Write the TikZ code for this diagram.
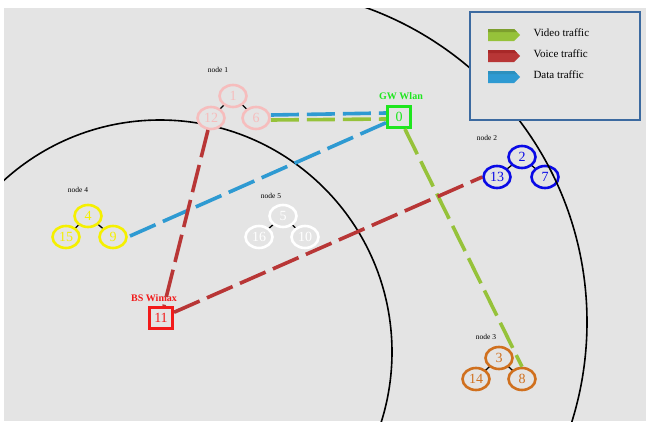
\documentclass[tikz,border=0pt]{standalone}
\usepackage{fontspec}
\setmainfont{Liberation Serif}
\usetikzlibrary{shapes.geometric,backgrounds}
\definecolor{bggray}{HTML}{E4E4E4}
\definecolor{pinkn}{HTML}{F6BDBD}
\definecolor{bluen}{HTML}{0A0AE6}
\definecolor{yellown}{HTML}{F5F000}
\definecolor{orangen}{HTML}{D0701E}
\definecolor{gwgreen}{HTML}{1EE61E}
\definecolor{bsred}{HTML}{F21A1A}
\definecolor{video}{HTML}{96C23A}
\definecolor{voice}{HTML}{B83636}
\definecolor{data}{HTML}{2E9AD2}
\definecolor{legendframe}{HTML}{3C6AA0}
\begin{document}
\begin{tikzpicture}[x=1pt,y=-1pt,
  host/.style={ellipse, draw=#1, text=#1, fill=bggray, line width=2.6pt,
    minimum width=27pt, minimum height=22pt, inner sep=0pt, font=\fontsize{14}{14}\selectfont},
  gateway/.style={rectangle, draw=#1, text=#1, fill=bggray, line width=3pt,
    minimum width=23pt, minimum height=21pt, inner sep=0pt, font=\fontsize{14}{14}\selectfont},
  grouplabel/.style={font=\fontsize{7.5}{8}\selectfont, text=black},
  stationlabel/.style={font=\fontsize{10}{10}\selectfont\bfseries, text=#1},
  link/.style={black, line width=1.3pt},
  coverage/.style={line width=1.6pt},
  traffic/.style={draw=#1, line width=3.6pt, dash pattern=on 28pt off 8pt},
  legendtext/.style={font=\fontsize{11}{11}\selectfont, anchor=west}]
\useasboundingbox (0,0) rectangle (646,421);

% groups of hosts
\node[host=pinkn] (n1) at (233,96) {1};
\node[host=pinkn] (n12) at (211,118) {12};
\node[host=pinkn] (n6) at (256,118) {6};
\node[grouplabel] (g1) at (218,70) {node 1};

\node[host=bluen] (n2) at (522,157) {2};
\node[host=bluen] (n13) at (497,177) {13};
\node[host=bluen] (n7) at (545,177) {7};
\node[grouplabel] (g2) at (487,138) {node 2};

\node[host=yellown] (n4) at (88,216) {4};
\node[host=yellown] (n15) at (66,237) {15};
\node[host=yellown] (n9) at (113,237) {9};
\node[grouplabel] (g4) at (78,190) {node 4};

\node[host=white] (n5) at (283,216) {5};
\node[host=white] (n16) at (259,237) {16};
\node[host=white] (n10) at (305,237) {10};
\node[grouplabel] (g5) at (271,196) {node 5};

\node[host=orangen] (n3) at (499,358) {3};
\node[host=orangen] (n14) at (476,379) {14};
\node[host=orangen] (n8) at (522,379) {8};
\node[grouplabel] (g3) at (486,337) {node 3};

% gateways
\node[gateway=gwgreen] (n0) at (399,117) {0};
\node[stationlabel=gwgreen] (gw) at (401,96) {GW Wlan};
\node[gateway=bsred] (n11) at (161,318) {11};
\node[stationlabel=bsred] (bs) at (154,298) {BS Wimax};

\begin{scope}[on background layer]
  \fill[bggray] (4,8) rectangle (646,421);
  % inner coverage area
  \begin{scope}
    \clip (4,8) rectangle (646,421);
    \draw[coverage] (160,352) circle[radius=232pt];
  \end{scope}
  % links inside each group, hidden under the hosts
  \foreach \a/\b in {n1/n12,n1/n6,n2/n13,n2/n7,n4/n15,n4/n9,n5/n16,n5/n10,n3/n14,n3/n8}
    \draw[link] (\a.center) -- (\b.center);
\end{scope}

% outer coverage area, only its right-hand arc
\begin{scope}
  \clip (300,8) rectangle (646,421);
  \draw[coverage] (253,322) circle[radius=334pt];
\end{scope}

% legend
\node[draw=legendframe, line width=1.4pt, fill=bggray, minimum width=170pt,
  minimum height=108pt, inner sep=0pt] (legend) at (555,66) {};
\foreach \c/\d/\y/\t in {video/7D9F2E/35/Video traffic, voice/A82828/56/Voice traffic, data/2C90BE/77/Data traffic}{
  \definecolor{dark}{HTML}{\d}
  \fill[\c] (488,\y-6) -- (514,\y-6) -- (520,\y) -- (514,\y+6) -- (488,\y+6) -- cycle;
  \fill[dark] (488,\y-6) -- (514,\y-6) -- (517,\y-3) -- (488,\y-3) -- cycle;
  \node[legendtext] (lt\y) at (530,\y-2) {\t};
}

% traffic flows
\draw[traffic=video] ([yshift=-2pt]n6.east) -- ([yshift=-2pt]n0.west);
\draw[traffic=data] ([yshift=3pt]n6.east) -- ([yshift=4pt]n0.west);
\draw[traffic=data] (n0) -- (n9.east);
\draw[traffic=video] (n0) -- (n8.north);
\draw[traffic=voice] (n12) -- (n11);
\draw[traffic=voice] (n11) -- (n13.west);
\end{tikzpicture}
\end{document}
